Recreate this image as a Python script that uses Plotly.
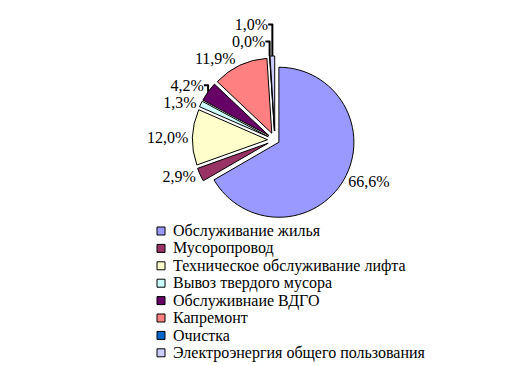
import plotly.graph_objects as go

categories = [
    "Обслуживание жилья",
    "Мусоропровод",
    "Техническое обслуживание лифта",
    "Вывоз твердого мусора",
    "Обслуживнаие ВДГО",
    "Капремонт",
    "Очистка",
    "Электроэнергия общего пользования",
]
shares = [66.6, 2.9, 12.0, 1.3, 4.2, 11.9, 0.04, 1.0]
colors = ["#9999FF", "#993366", "#FFFFCC", "#CCFFFF", "#660066", "#FF8080", "#0066CC", "#CCCCFF"]
pulls = [0.06, 0.1, 0.1, 0.1, 0.1, 0.1, 0.12, 0.12]

labels_txt = [f"{v:.1f}".replace(".", ",") + "%" for v in shares]

# the page body adds an 8px offset, so the figure is 8px smaller than the window
OFF = 8
W, H = 532 - OFF, 365 - OFF
FONT = "Liberation Serif"


def px_x(x):
    return (x - OFF) / W


def px_y(y):
    return 1 - (y - OFF) / H


fig = go.Figure(
    go.Pie(
        labels=categories,
        values=shares,
        text=labels_txt,
        textinfo="text",
        textposition="outside",
        sort=False,
        direction="clockwise",
        rotation=0,
        pull=pulls,
        marker=dict(colors=colors, line=dict(color="black", width=1)),
        textfont=dict(family=FONT, size=16, color="black"),
        domain=dict(x=[px_x(90), px_x(460)], y=[px_y(224), px_y(56)]),
        showlegend=False,
        hoverinfo="label+text",
    )
)

# Legend drawn as a compact block (matching the reference row spacing)
leg_top = 231.0
leg_step = 17.4
box_x0, box_x1 = 157, 165
text_x = 171
shapes = []
annotations = []
for i, (name, col) in enumerate(zip(categories, colors)):
    yc = leg_top + i * leg_step
    shapes.append(dict(
        type="rect", xref="paper", yref="paper",
        x0=px_x(box_x0), x1=px_x(box_x1),
        y0=px_y(yc + 4), y1=px_y(yc - 4),
        fillcolor=col, line=dict(color="black", width=1),
    ))
    annotations.append(dict(
        text=name, xref="paper", yref="paper",
        x=px_x(text_x), y=px_y(yc), xanchor="left", yanchor="middle",
        showarrow=False, font=dict(family=FONT, size=16, color="black"),
    ))

fig.update_layout(
    width=W,
    height=H,
    autosize=False,
    margin=dict(l=0, r=0, t=0, b=0, pad=0, autoexpand=False),
    paper_bgcolor="white",
    plot_bgcolor="white",
    font=dict(family=FONT, size=16, color="black"),
    shapes=shapes,
    annotations=annotations,
)

fig.write_html("out.html")
